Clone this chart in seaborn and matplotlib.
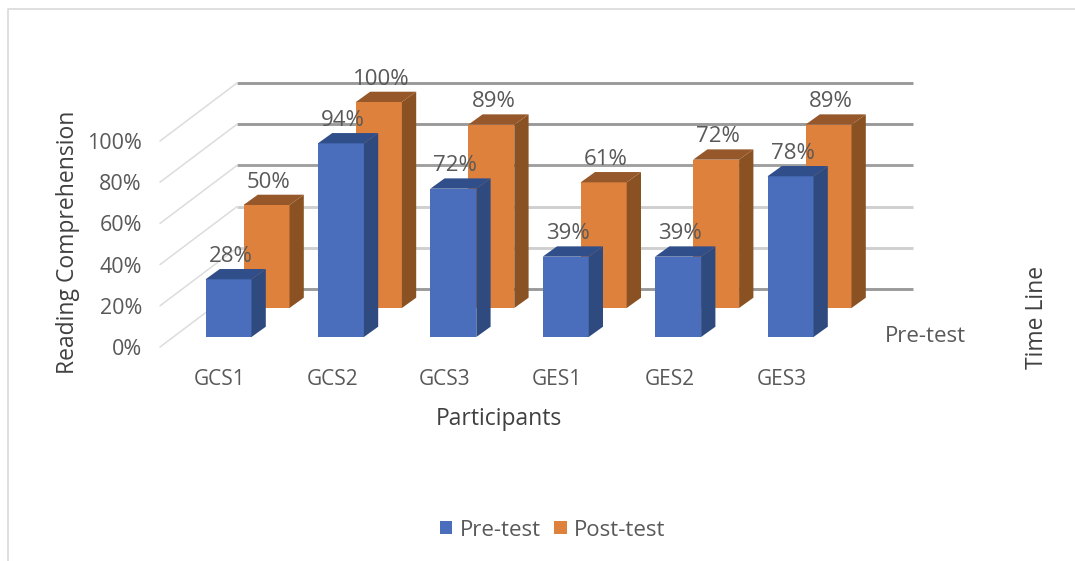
import matplotlib
matplotlib.use("Agg")
import matplotlib.pyplot as plt
from matplotlib.lines import Line2D
import seaborn as sns
import pandas as pd
import numpy as np

participants = ["GCS1", "GCS2", "GCS3", "GES1", "GES2", "GES3"]
pre_test = [28, 94, 72, 39, 39, 78]
post_test = [50, 100, 89, 61, 72, 89]
y_ticks = [0, 20, 40, 60, 80, 100]

W, H = 1075, 561
sns.set_theme(style="white")
plt.rcParams["font.family"] = ["Open Sans", "DejaVu Sans"]
TXT = "#595959"

fig = plt.figure(figsize=(W / 100, H / 100), dpi=100)
# plot area in pixels
L, R, B, T = 160, 913, 347, 60
ax = fig.add_axes([L / W, 1 - B / H, (R - L) / W, (B - T) / H])
PX_X = 112.4          # pixels per category
PX_Y = 2.06           # pixels per percent
X0 = 228.5            # pixel centre of first front bar

# oblique-projection offsets, in data units
wall_dx, wall_dy = 77 / PX_X, 58 / PX_Y
row_dx, row_dy = 38 / PX_X, 29 / PX_Y
depth_dx, depth_dy = 14.3 / PX_X, 10.3 / PX_Y
floor_front = 10 / PX_Y
bar_w = 46 / PX_X

pos = np.arange(len(participants), dtype=float)
df = pd.DataFrame({"participant": participants, "pos": pos,
                   "pre": pre_test, "post": post_test})

x_left = (L - X0) / PX_X
x_right = (R - X0) / PX_X

# back wall and side wall grid
wall_color = {0: "#9a9a9a", 20: "#cfcfcf", 40: "#cfcfcf", 60: "#a0a0a0", 80: "#9a9a9a", 100: "#9a9a9a"}
for t in y_ticks:
    ax.plot([x_left + wall_dx, x_right], [t + wall_dy] * 2, color=wall_color[t],
            lw=2.1, zorder=1, solid_capstyle="butt", clip_on=False)
    ax.plot([x_left, x_left + wall_dx], [t, t + wall_dy], color="#dcdcdc",
            lw=1.1, zorder=1, clip_on=False)


def draw_row(col, offset_x, bottom, front, side, top, label, z):
    before = len(ax.patches)
    sns.barplot(data=df.assign(xp=df["pos"] + offset_x), x="xp", y=col, native_scale=True,
                width=bar_w, bottom=bottom, color=front, saturation=1, ax=ax,
                label=label, zorder=z, linewidth=0, errorbar=None)
    for p in ax.patches[before:]:
        x0, x1 = p.get_x(), p.get_x() + p.get_width()
        y0, y1 = p.get_y(), p.get_y() + p.get_height()
        ax.fill([x1, x1 + depth_dx, x1 + depth_dx, x1],
                [y0, y0 + depth_dy, y1 + depth_dy, y1], color=side, lw=0, zorder=z)
        ax.fill([x0, x0 + depth_dx, x1 + depth_dx, x1],
                [y1, y1 + depth_dy, y1 + depth_dy, y1], color=top, lw=0, zorder=z)
        ax.annotate(f"{p.get_height():.0f}%", ((x0 + x1) / 2, y1), xytext=(1.5, 16.5),
                    textcoords="offset points", ha="center", va="center",
                    fontsize=16, color=TXT, zorder=6, annotation_clip=False)


draw_row("post", row_dx, floor_front + row_dy, "#DD813D", "#8A5222", "#96582A", "Post-test", 3)
draw_row("pre", 0.0, floor_front, "#4A6EBC", "#2F4A7F", "#304E8A", "Pre-test", 4)

ax.set_xlim(x_left, x_right)
ax.set_ylim(0, (B - T) / PX_Y)
ax.set_xticks(pos - 0.075)
ax.set_xticklabels(participants, fontsize=15, color=TXT)
ax.set_yticks(y_ticks)
ax.set_yticklabels([f"{t}%" for t in y_ticks], fontsize=15.5, color=TXT)
ax.tick_params(axis="x", length=0, pad=16)
ax.tick_params(axis="y", length=0, pad=13)
sns.despine(ax=ax, left=True, bottom=True, top=True, right=True)
ax.patch.set_alpha(0)

ax.set_xlabel("Participants", fontsize=16.5, color="#404040")
ax.set_ylabel("Reading Comprehension", fontsize=16.5, color="#404040")
ax.xaxis.set_label_coords(499 / W, 1 - 419 / H, transform=fig.transFigure)
ax.yaxis.set_label_coords(68 / W, 1 - 242 / H, transform=fig.transFigure)
ax.xaxis.label.set_va("center")
ax.yaxis.label.set_va("center")

fig.text(925 / W, 1 - 337 / H, "Pre-test", fontsize=16, color=TXT, ha="center", va="center")
fig.text(1037 / W, 1 - 317 / H, "Time Line", fontsize=16.5, color="#404040", rotation=90,
         ha="center", va="center")

handles, labels = ax.get_legend_handles_labels()
order = [labels.index("Pre-test"), labels.index("Post-test")]
fig.legend([handles[i] for i in order], [labels[i] for i in order], loc="center",
           bbox_to_anchor=(552.5 / W, 1 - 530 / H), ncol=2, frameon=False, fontsize=16,
           labelcolor=TXT, handlelength=0.57, handleheight=0.57, handletextpad=0.32,
           columnspacing=0.6)
if ax.get_legend():
    ax.get_legend().remove()

# chart-area frame
fig.add_artist(Line2D([8 / W, 8 / W, 1], [0, 1 - 9 / H, 1 - 9 / H], color="#dcdcdc", lw=1.3))

fig.savefig("out.png", dpi=100)
